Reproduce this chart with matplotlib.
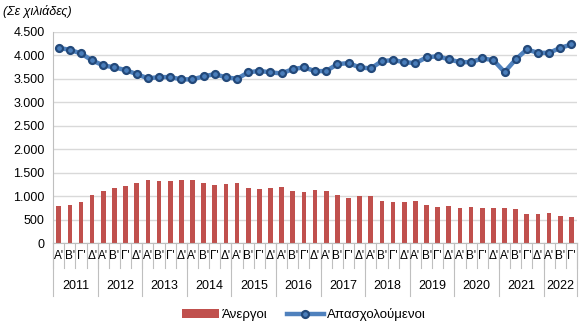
import matplotlib
matplotlib.use("Agg")
import matplotlib.pyplot as plt
import matplotlib.transforms as mtransforms
from matplotlib.ticker import FuncFormatter, MultipleLocator

plt.rcParams['font.family'] = ['Liberation Sans', 'DejaVu Sans']

years = ['2011', '2012', '2013', '2014', '2015', '2016', '2017', '2018',
         '2019', '2020', '2021', '2022']
quarters = ["Α'", "Β'", "Γ'", "Δ'"]
n_quarters_last = 3

# Άνεργοι (σε χιλιάδες)
unemployed = [793, 814, 871, 1020, 1105, 1169, 1211, 1275, 1339, 1318, 1318, 1339,
              1339, 1275, 1233, 1254, 1275, 1169, 1154, 1169, 1190, 1112, 1090, 1126,
              1112, 1020, 957, 999, 999, 899, 878, 878, 899, 814, 772, 793,
              750, 772, 750, 750, 750, 729, 623, 623, 644, 580, 559]

# Απασχολούμενοι (σε χιλιάδες)
employed = [4158, 4116, 4039, 3890, 3784, 3742, 3684, 3599, 3508, 3535, 3535, 3487,
            3487, 3550, 3599, 3529, 3500, 3635, 3669, 3635, 3614, 3705, 3742, 3663,
            3663, 3812, 3833, 3742, 3720, 3876, 3897, 3854, 3833, 3954, 3982, 3912,
            3854, 3854, 3933, 3897, 3642, 3912, 4124, 4052, 4052, 4158, 4230]

labels = []
for y in years:
    qs = quarters if y != years[-1] else quarters[:n_quarters_last]
    labels += [(y, q) for q in qs]
x = list(range(len(labels)))

fig = plt.figure(figsize=(5.84, 3.28), dpi=100)
ax = fig.add_axes([0.091, 0.259, 0.897, 0.644])

bars = ax.bar(x, unemployed, width=0.42, color='#C0504D', label='Άνεργοι', zorder=2)
line, = ax.plot(x, employed, color='#4F81BD', lw=3.2, marker='o', markersize=5,
                markerfacecolor='#4A7EBB', markeredgecolor='#23497A',
                markeredgewidth=1.6, label='Απασχολούμενοι', zorder=3)

ax.set_xlim(-0.5, len(x) - 0.5)
ax.set_ylim(0, 4500)
ax.yaxis.set_major_locator(MultipleLocator(500))
ax.yaxis.set_major_formatter(FuncFormatter(lambda v, p: f'{int(v):,}'.replace(',', '.')))
ax.grid(axis='y', color='#D9D9D9', lw=1, zorder=0)
ax.tick_params(axis='y', length=0, labelsize=9, pad=6, colors='#000000')
ax.set_xticks([])
for s in ['top', 'right']:
    ax.spines[s].set_visible(False)
ax.spines['left'].set_color('#BFBFBF')
ax.spines['bottom'].set_color('#BFBFBF')

# category axis: quarter labels, year labels, separators
trans = mtransforms.blended_transform_factory(ax.transData, ax.transAxes)
for i, (y, q) in enumerate(labels):
    ax.text(i, -0.035, q, transform=trans, ha='center', va='top', fontsize=8.5)
    ax.plot([i - 0.5, i - 0.5], [0, -0.12], transform=trans, color='#BFBFBF',
            lw=0.8, clip_on=False)
ax.plot([len(x) - 0.5] * 2, [0, -0.12], transform=trans, color='#BFBFBF',
        lw=0.8, clip_on=False)
start = 0
for y in years:
    n = sum(1 for l in labels if l[0] == y)
    ax.text(start + (n - 1) / 2, -0.205, y, transform=trans, ha='center',
            va='center', fontsize=9)
    ax.plot([start - 0.5] * 2, [0, -0.25], transform=trans, color='#BFBFBF',
            lw=0.8, clip_on=False)
    start += n
ax.plot([start - 0.5] * 2, [0, -0.25], transform=trans, color='#BFBFBF',
        lw=0.8, clip_on=False)

fig.text(0.005, 0.965, '(Σε χιλιάδες)', fontsize=9, style='italic', va='center')

fig.legend(handles=[bars, line], loc='center', bbox_to_anchor=(0.52, 0.04),
           ncol=2, frameon=False, fontsize=9.5, handlelength=2.8,
           columnspacing=1.5, handletextpad=0.2)

fig.savefig('out.png', dpi=100)
